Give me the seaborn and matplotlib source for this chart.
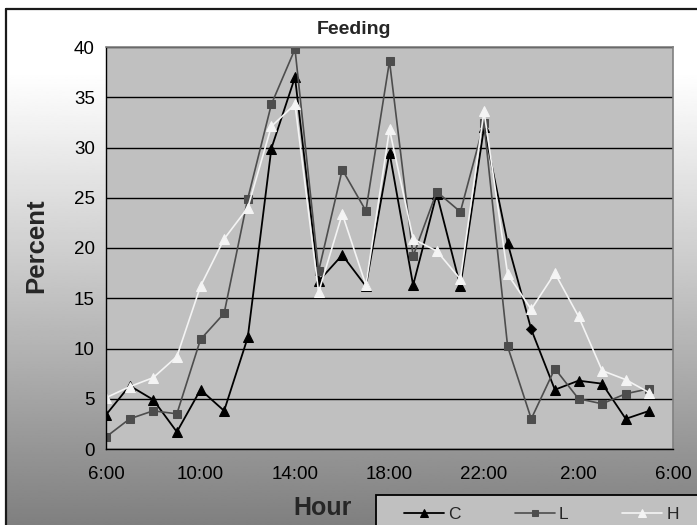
import matplotlib
matplotlib.use("Agg")
import matplotlib.pyplot as plt
from matplotlib.lines import Line2D
from matplotlib.patches import Rectangle
import numpy as np
import pandas as pd
import seaborn as sns

# ── Data ──────────────────────────────────────────────────────────────
HOURS = list(range(6, 30))  # 6:00 .. 5:00 next day
C_VALUES = [3.4, 6.3, 4.9, 1.7, 5.9, 3.8, 11.1, 29.9, 37.0, 16.7, 19.3, 16.2,
            29.5, 16.3, 25.4, 16.2, 32.0, 20.5, 11.9, 5.9, 6.8, 6.5, 3.0, 3.8]
L_VALUES = [1.2, 3.0, 3.8, 3.5, 10.9, 13.5, 24.9, 34.3, 39.8, 17.7, 27.8, 23.7,
            38.6, 19.2, 25.6, 23.6, 32.4, 10.2, 3.0, 8.0, 5.0, 4.5, 5.5, 6.0]
H_VALUES = [5.1, 6.2, 7.1, 9.2, 16.2, 20.9, 24.0, 32.1, 34.3, 15.6, 23.4, 16.3,
            31.8, 20.9, 19.7, 16.9, 33.6, 17.4, 13.9, 17.5, 13.2, 7.8, 6.9, 5.6]
TICK_HOURS = [6, 10, 14, 18, 22, 26, 30]
TICK_LABELS = ["6:00", "10:00", "14:00", "18:00", "22:00", "2:00", "6:00"]

# ── Theme ─────────────────────────────────────────────────────────────
PLOT_BG = "#C0C0C0"
L_COLOR = "#4D4D4D"
H_COLOR = "#F4F4F4"
W, H = 697, 525

sns.set_style("white")
plt.rcParams["font.family"] = ["Liberation Sans", "DejaVu Sans"]

df = pd.DataFrame({"hour": HOURS, "C": C_VALUES, "L": L_VALUES, "H": H_VALUES})

fig = plt.figure(figsize=(W / 100, H / 100), dpi=100)
fig.patch.set_facecolor("white")

# Vertical gradient behind the chart (white at top, grey at bottom)
bg = fig.add_axes([6 / W, 0, 1 - 6 / W, 1 - 9 / H], zorder=0)
t = np.linspace(0, 1, 300)
grey = 1 - 0.5 * np.clip((t - 0.12) / 0.88, 0, 1) ** 1.05
bg.imshow(grey[:, None], aspect="auto", cmap="gray", vmin=0, vmax=1,
          extent=[0, 1, 0, 1], interpolation="bilinear")
bg.axis("off")
fig.add_artist(Line2D([6 / W, 6 / W], [0, 1 - 9 / H], color="#1a1a1a", lw=1.6,
                      transform=fig.transFigure))
fig.add_artist(Line2D([6 / W, 1], [1 - 9 / H, 1 - 9 / H], color="#1a1a1a", lw=1.6,
                      transform=fig.transFigure))

ax = fig.add_axes([106 / W, 1 - 449 / H, 567 / W, 402 / H], zorder=1)
ax.set_facecolor(PLOT_BG)

keep = [i for i in range(len(HOURS)) if i != 18]  # hour 0:00 uses a diamond
sns.lineplot(data=df, x="hour", y="C", ax=ax, color="black", lw=1.3,
             marker="^", markersize=7, markeredgecolor="black",
             markevery=keep, label="C")
sns.scatterplot(data=df.iloc[[18]], x="hour", y="C", ax=ax, color="black",
                marker="D", s=28, edgecolor="black", zorder=3, legend=False)
sns.lineplot(data=df, x="hour", y="L", ax=ax, color=L_COLOR, lw=1.2,
             marker="s", markersize=6, markeredgecolor=L_COLOR, label="L")
sns.lineplot(data=df, x="hour", y="H", ax=ax, color=H_COLOR, lw=1.2,
             marker="^", markersize=7, markeredgecolor=H_COLOR, label="H")

ax.set_xlim(6, 30)
ax.set_ylim(0, 40)
ax.set_yticks(range(0, 45, 5))
ax.set_xticks(TICK_HOURS)
ax.set_xticklabels(TICK_LABELS)
ax.set_xlabel("")
ax.set_ylabel("")
ax.grid(True, axis="y", color="black", lw=1)
ax.set_axisbelow(True)
for side in ["left", "bottom"]:
    ax.spines[side].set_color("black")
    ax.spines[side].set_linewidth(1)
for side in ["top", "right"]:
    ax.spines[side].set_color("#808080")
    ax.spines[side].set_linewidth(1.2)
ax.tick_params(axis="both", direction="out", length=5, width=1, color="black",
               labelsize=13.5, labelcolor="black")
ax.tick_params(axis="x", pad=7)
ax.tick_params(axis="y", pad=3)

handles, labels = ax.get_legend_handles_labels()
ax.get_legend().remove()

# Texts
fig.text(354 / W, 1 - 29 / H, "Feeding", ha="center", va="center",
         fontsize=14, fontweight="bold")
fig.text(36 / W, 1 - 246 / H, "Percent", ha="center", va="center", rotation=90,
         fontsize=18.5, fontweight="bold")
fig.text(323 / W, 1 - 508 / H, "Hour", ha="center", va="center",
         fontsize=18, fontweight="bold")

# Legend box at bottom right
fig.add_artist(Rectangle((376 / W, -0.01), 1, (525 - 495) / H + 0.01,
                         transform=fig.transFigure, facecolor=PLOT_BG,
                         edgecolor="black", lw=1.3, zorder=2))
leg = fig.legend(handles, labels, loc="center left",
                 bbox_to_anchor=(404 / W, 1 - 514 / H), ncol=3, frameon=False,
                 fontsize=12.5, handlelength=2.3, handletextpad=0.25,
                 columnspacing=3.1, borderpad=0, borderaxespad=0,
                 markerscale=0.75)
leg.set_zorder(3)

fig.savefig("out.png", dpi=100)
